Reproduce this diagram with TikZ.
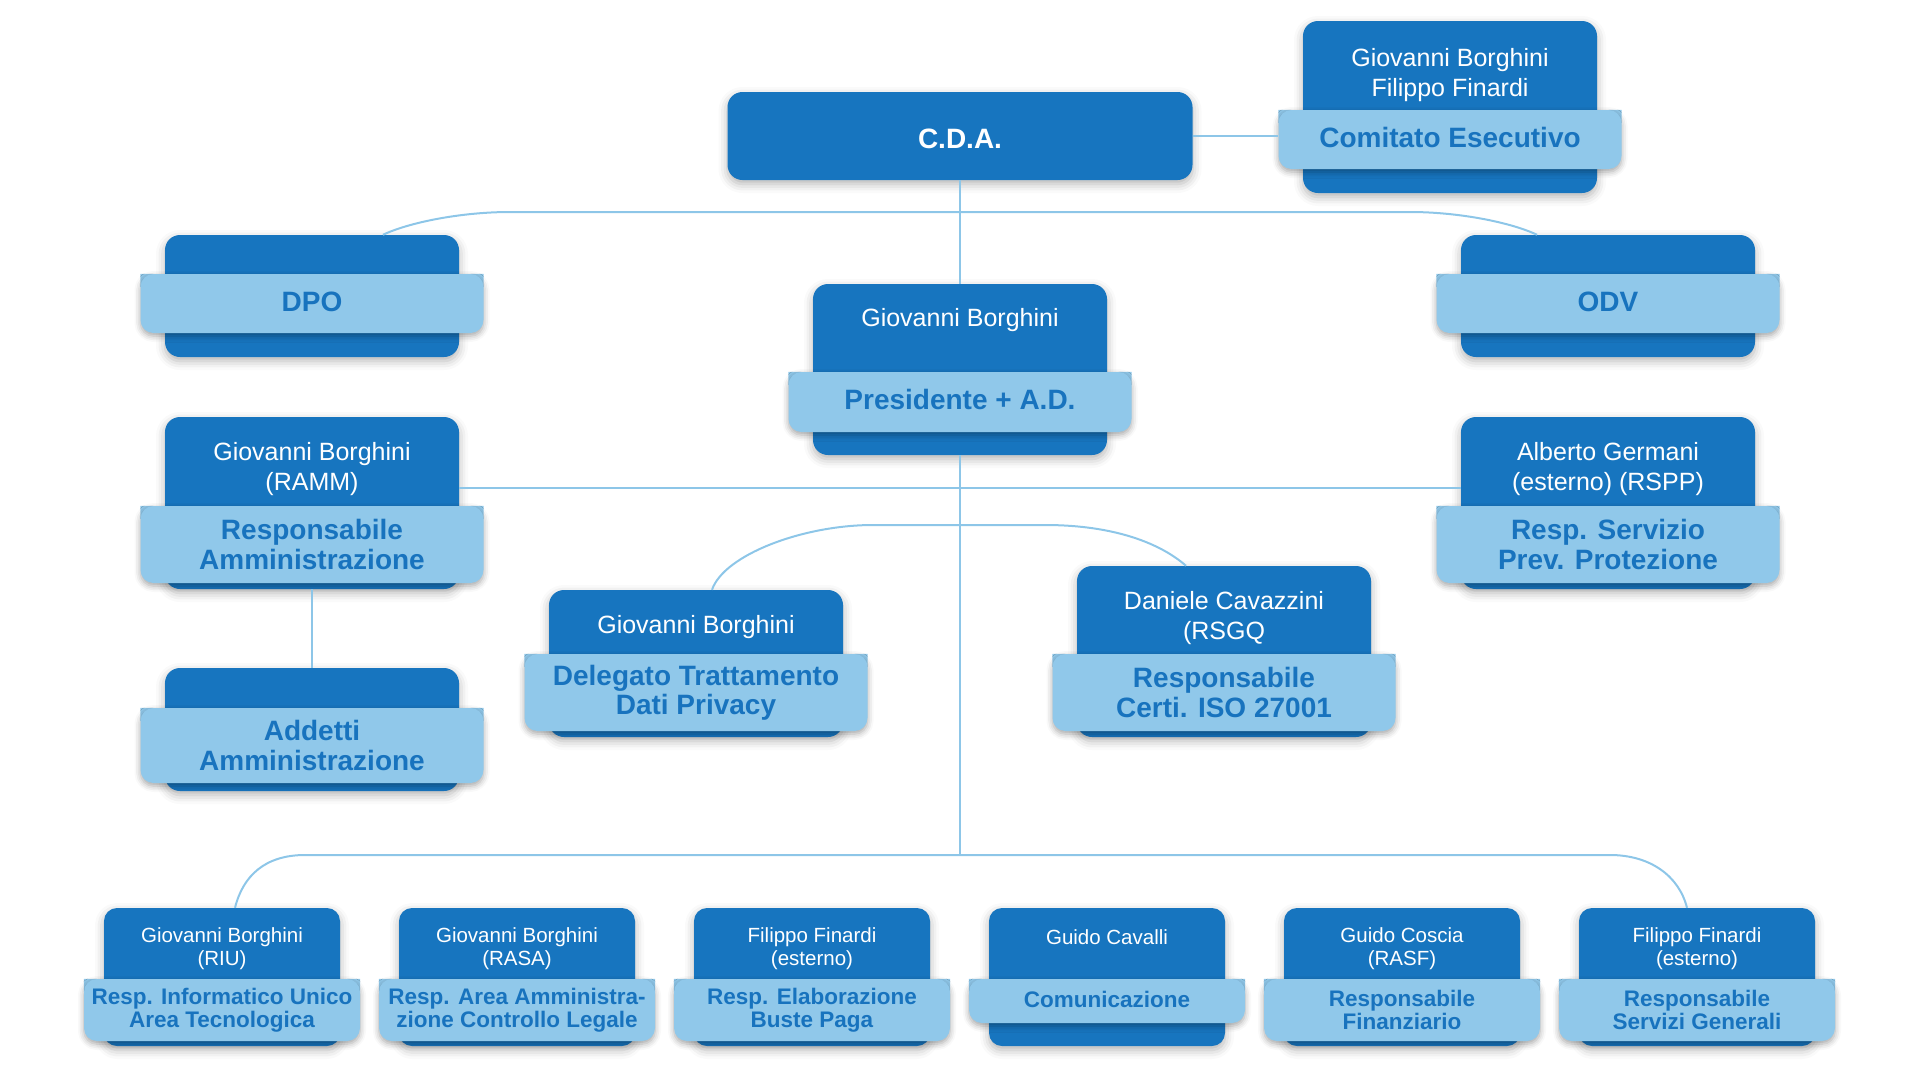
\documentclass[tikz,border=0pt]{standalone}
\usepackage{fontspec}
\setmainfont{Liberation Sans}
\usetikzlibrary{
    shadows.blur % Soft shadows under the cards.
}

\definecolor{cardblue}{RGB}{23,117,191}
\definecolor{bandblue}{RGB}{144,200,234}
\definecolor{roleblue}{RGB}{24,115,190}
\definecolor{linkblue}{RGB}{141,198,232}

\begin{document}
\begin{tikzpicture}[%
        x = 1pt, y = -1pt,
        card/.style = {fill = cardblue, rounded corners = 15pt, inner sep = 0pt,
            minimum width = 294pt,
            blur shadow = {shadow xshift = 0pt, shadow yshift = -4pt,
                shadow blur radius = 9pt, shadow opacity = 30}},
        smallcard/.style = {card, minimum width = 236pt, rounded corners = 13pt},
        rolebar/.style = {fill = bandblue, rounded corners = 13pt, inner sep = 0pt,
            minimum width = 343pt, text = roleblue, align = center,
            font = \fontsize{28}{29.5}\bfseries,
            blur shadow = {shadow xshift = 0pt, shadow yshift = -3pt,
                shadow blur radius = 6pt, shadow opacity = 35},
            append after command = {\pgfextra{%
                \fill[bandblue, sharp corners]
                    (\tikzlastnode.north west) rectangle ++(13pt,-13pt)
                    (\tikzlastnode.north east) rectangle ++(-13pt,-13pt);}}},
        smallrolebar/.style = {rolebar, minimum width = 276pt,
            font = \fontsize{22.5}{22.5}\bfseries},
        oneline/.style = {text height = 20pt, text depth = 5pt},
        person/.style = {text = white, align = center, inner sep = 0pt,
            font = \fontsize{25}{30}\selectfont},
        smallperson/.style = {person, font = \fontsize{20.5}{23}\selectfont},
        connector/.style = {draw = linkblue, line width = 2pt}
    ]

        \useasboundingbox (0,0) rectangle (1920,1080);

        % Board and executive committee.
        \node[card, minimum width = 465pt, minimum height = 88pt, text = white,
            text height = 24pt, text depth = 0pt,
            font = \fontsize{28}{30}\bfseries] (cda) at (960,136) {C.D.A.};

        \node[card, minimum height = 172pt] (comitato) at (1450,107) {};
        \node[person] (comitatoName) at (1450,75.5) {Giovanni Borghini\\Filippo Finardi};
        \node[rolebar, oneline, minimum height = 59pt] (comitatoRole) at (1450,139.5) {Comitato Esecutivo};

        % DPO and ODV at the sides.
        \node[card, minimum height = 122pt] (dpo) at (312,296) {};
        \node[rolebar, oneline, minimum height = 59pt] (dpoRole) at (312,303.5) {DPO};

        \node[card, minimum height = 122pt] (odv) at (1608,296) {};
        \node[rolebar, oneline, minimum height = 59pt] (odvRole) at (1608,303.5) {ODV};

        % President.
        \node[card, minimum height = 171pt] (presidente) at (960,369.5) {};
        \node[person] (presidenteName) at (960,320.5) {Giovanni Borghini};
        \node[rolebar, oneline, minimum height = 60pt] (presidenteRole) at (960,402) {Presidente + A.D.};

        % Administration and safety.
        \node[card, minimum height = 172pt] (ramm) at (312,503) {};
        \node[person] (rammName) at (312,469.5) {Giovanni Borghini\\(RAMM)};
        \node[rolebar, minimum height = 77pt] (rammRole) at (312,544.5) {Responsabile\\Amministrazione};

        \node[card, minimum height = 172pt] (rspp) at (1608,503) {};
        \node[person] (rsppName) at (1608,469.5) {Alberto Germani\\(esterno) (RSPP)};
        \node[rolebar, minimum height = 77pt] (rsppRole) at (1608,544.5) {Resp. Servizio\\Prev. Protezione};

        \node[card, minimum height = 123pt] (addetti) at (312,729.5) {};
        \node[rolebar, minimum height = 75pt] (addettiRole) at (312,745.5) {Addetti\\Amministrazione};

        % Privacy and ISO certification.
        \node[card, minimum height = 147pt] (privacy) at (696,663.5) {};
        \node[person] (privacyName) at (696,627.5) {Giovanni Borghini};
        \node[rolebar, minimum height = 77pt] (privacyRole) at (696,692.5) {Delegato Trattamento\\Dati Privacy};

        \node[card, minimum height = 171pt] (iso) at (1224,651.5) {};
        \node[person] (isoName) at (1224,618.5) {Daniele Cavazzini\\(RSGQ};
        \node[rolebar, minimum height = 77pt] (isoRole) at (1224,692.5) {Responsabile\\Certi. ISO 27001};

        % Bottom row of offices.
        \node[smallcard, minimum height = 138pt] (riu) at (222,977) {};
        \node[smallperson] (riuName) at (222,948.5) {Giovanni Borghini\\(RIU)};
        \node[smallrolebar, minimum height = 62pt] (riuRole) at (222,1010) {Resp. Informatico Unico\\Area Tecnologica};

        \node[smallcard, minimum height = 138pt] (rasa) at (517,977) {};
        \node[smallperson] (rasaName) at (517,948.5) {Giovanni Borghini\\(RASA)};
        \node[smallrolebar, minimum height = 62pt] (rasaRole) at (517,1010) {Resp. Area Amministra-\\zione Controllo Legale};

        \node[smallcard, minimum height = 138pt] (paghe) at (812,977) {};
        \node[smallperson] (pagheName) at (812,948.5) {Filippo Finardi\\(esterno)};
        \node[smallrolebar, minimum height = 62pt] (pagheRole) at (812,1010) {Resp. Elaborazione\\Buste Paga};

        \node[smallcard, minimum height = 138pt] (comunicazione) at (1107,977) {};
        \node[smallperson] (comunicazioneName) at (1107,937) {Guido Cavalli};
        \node[smallrolebar, text height = 16pt, text depth = 4pt, minimum height = 44pt]
            (comunicazioneRole) at (1107,1001) {Comunicazione};

        \node[smallcard, minimum height = 138pt] (rasf) at (1402,977) {};
        \node[smallperson] (rasfName) at (1402,948.5) {Guido Coscia\\(RASF)};
        \node[smallrolebar, minimum height = 62pt] (rasfRole) at (1402,1010) {Responsabile\\Finanziario};

        \node[smallcard, minimum height = 138pt] (servizi) at (1697,977) {};
        \node[smallperson] (serviziName) at (1697,948.5) {Filippo Finardi\\(esterno)};
        \node[smallrolebar, minimum height = 62pt] (serviziRole) at (1697,1010) {Responsabile\\Servizi Generali};

        % Points where the connectors bend.
        \coordinate (topLeft) at (510,212);
        \coordinate (topRight) at (1410,212);
        \coordinate (midLeft) at (873,525);
        \coordinate (midRight) at (1045,525);
        \coordinate (lowLeft) at (305,855);
        \coordinate (lowRight) at (1610,855);
        \coordinate (lowBus) at (960,855);

        % Connect the cards.
        \draw[connector] (cda.east) -- (cda.east -| comitatoRole.west);
        \draw[connector] (cda) -- (presidente);
        \draw[connector] ([xshift=71pt]dpo.north)
              .. controls +(25pt,12pt) and +(-50pt,0pt) .. (topLeft)
              -- (topRight)
              .. controls +(50pt,0pt) and +(-25pt,12pt) .. ([xshift=-71pt]odv.north);
        \draw[connector] (presidente) -- (lowBus);
        \draw[connector] ([yshift=15pt]ramm.east) -- ([yshift=15pt]rspp.west);
        \draw[connector] (ramm) -- (addetti);
        \draw[connector] ([xshift=16pt]privacy.north)
              .. controls +(12pt,35pt) and +(-70pt,0pt) .. (midLeft)
              -- (midRight)
              .. controls +(70pt,0pt) and +(-25pt,22pt) .. ([xshift=-38pt]iso.north);
        \draw[connector] ([xshift=13pt]riu.north)
              .. controls +(8pt,32pt) and +(-40pt,0pt) .. (lowLeft)
              -- (lowRight)
              .. controls +(40pt,0pt) and +(-8pt,32pt) .. ([xshift=-10pt]servizi.north);
    \end{tikzpicture}
\end{document}
